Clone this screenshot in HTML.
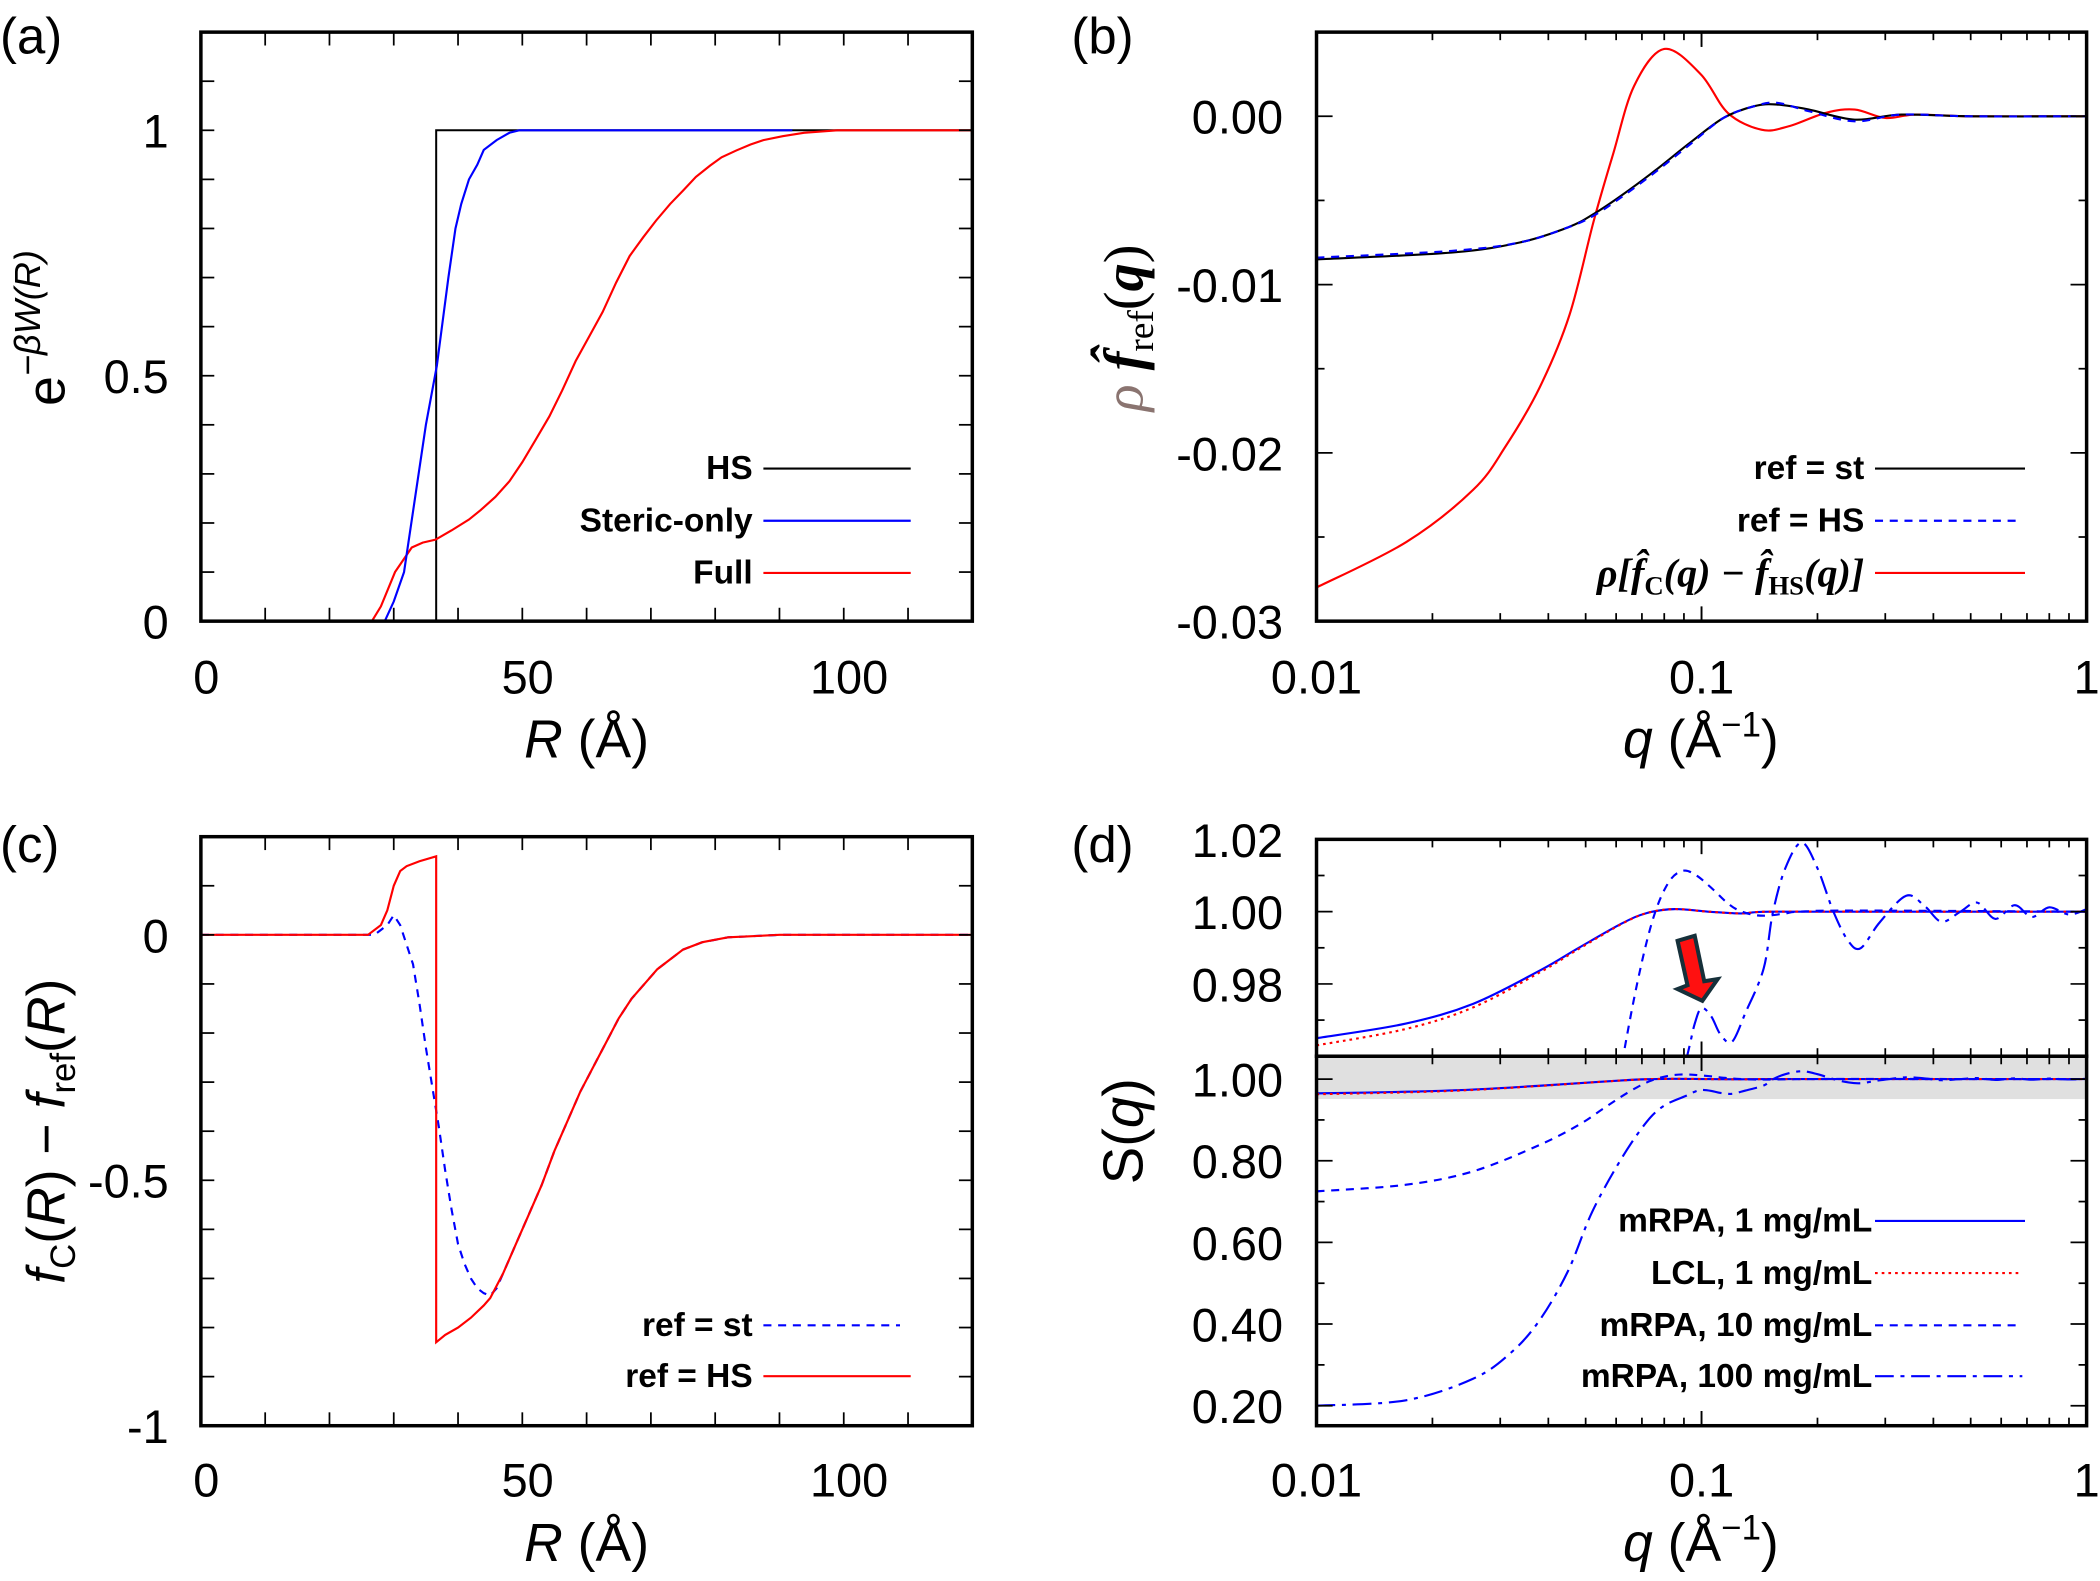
<!DOCTYPE html>
<html><head><meta charset="utf-8">
<style>
html,body{margin:0;padding:0;background:#fff;overflow:hidden;width:2100px;height:1581px;}
svg{display:block;}
text{font-family:"Liberation Sans",sans-serif;}
.tick{font-size:35px;fill:#000;}
.leg{font-family:"Liberation Sans Narrow","Liberation Sans",sans-serif;font-weight:bold;font-size:25px;}
</style></head>
<body>
<svg id="chart" xmlns="http://www.w3.org/2000/svg" width="2100" height="1581" viewBox="0 0 1568 1181" preserveAspectRatio="none" overflow="hidden">
<defs>
<clipPath id="clipA"><rect x="150" y="24" width="576" height="440"/></clipPath>
<clipPath id="clipB"><rect x="983" y="24" width="575" height="440"/></clipPath>
<clipPath id="clipC"><rect x="150" y="625" width="576" height="440"/></clipPath>
<clipPath id="clipDt"><rect x="983" y="627" width="575" height="162"/></clipPath>
<clipPath id="clipDb"><rect x="983" y="789" width="575" height="276"/></clipPath>
</defs>
<rect x="983" y="789" width="575" height="32" fill="#e0e0e0"/>
<g id="layer"></g>
<text x="0" y="40" font-size="38">(a)</text>
<text x="800" y="40" font-size="38">(b)</text>
<text x="0" y="644" font-size="38">(c)</text>
<text x="800" y="644" font-size="38">(d)</text>
<text x="438" y="566" font-size="40" text-anchor="middle"><tspan font-style="italic">R</tspan> (Å)</text>
<text x="1270" y="566" font-size="40" text-anchor="middle"><tspan font-style="italic">q</tspan> (Å<tspan font-size="26" dy="-16">−1</tspan><tspan dy="16">)</tspan></text>
<text x="438" y="1166" font-size="40" text-anchor="middle"><tspan font-style="italic">R</tspan> (Å)</text>
<text x="1270" y="1166" font-size="40" text-anchor="middle"><tspan font-style="italic">q</tspan> (Å<tspan font-size="26" dy="-16">−1</tspan><tspan dy="16">)</tspan></text>
<text transform="translate(48,245) rotate(-90)" font-size="40" text-anchor="middle">e<tspan font-size="27" dy="-18" font-style="italic">−βW(R)</tspan></text>
<text transform="translate(853,245) rotate(-90)" font-size="42" text-anchor="middle" style="font-family:'Liberation Serif',serif"><tspan fill="#8a7470" font-style="italic">ρ</tspan><tspan font-weight="bold" font-style="italic"> f̂</tspan><tspan font-size="28" dy="8">ref</tspan><tspan dy="-8">(</tspan><tspan font-style="italic" font-weight="bold">q</tspan>)</text>
<text transform="translate(48,845) rotate(-90)" font-size="40" text-anchor="middle"><tspan font-style="italic">f</tspan><tspan font-size="26" dy="8">C</tspan><tspan dy="-8">(</tspan><tspan font-style="italic">R</tspan>) − <tspan font-style="italic">f</tspan><tspan font-size="26" dy="8">ref</tspan><tspan dy="-8">(</tspan><tspan font-style="italic">R</tspan>)</text>
<text transform="translate(853,845) rotate(-90)" font-size="42" text-anchor="middle">S(<tspan font-style="italic">q</tspan>)</text>
<g class="leg">
<text x="562" y="358" text-anchor="end">HS</text>
<line x1="570" y1="350" x2="680" y2="350" stroke="#000" stroke-width="1.6"/>
<text x="562" y="397" text-anchor="end">Steric-only</text>
<line x1="570" y1="389" x2="680" y2="389" stroke="#0000ff" stroke-width="1.6"/>
<text x="562" y="436" text-anchor="end">Full</text>
<line x1="570" y1="428" x2="680" y2="428" stroke="#ff0000" stroke-width="1.6"/>
</g>
<g class="leg">
<text x="1392" y="358" text-anchor="end">ref = st</text>
<line x1="1400" y1="350" x2="1512" y2="350" stroke="#000" stroke-width="1.6"/>
<text x="1392" y="397" text-anchor="end">ref = HS</text>
<line x1="1400" y1="389" x2="1505" y2="389" stroke="#0000ff" stroke-width="1.6" stroke-dasharray="6,5"/>
<text x="1392" y="438" text-anchor="end" style="font-family:'Liberation Serif',serif;font-style:italic;font-size:30px">ρ[f̂<tspan font-size="20" dy="6" font-style="normal">C</tspan><tspan dy="-6">(q) − f̂</tspan><tspan font-size="20" dy="6" font-style="normal">HS</tspan><tspan dy="-6">(q)]</tspan></text>
<line x1="1400" y1="428" x2="1512" y2="428" stroke="#ff0000" stroke-width="1.6"/>
</g>
<g class="leg">
<text x="562" y="998" text-anchor="end">ref = st</text>
<line x1="570" y1="990" x2="672" y2="990" stroke="#0000ff" stroke-width="1.6" stroke-dasharray="6,5"/>
<text x="562" y="1036" text-anchor="end">ref = HS</text>
<line x1="570" y1="1028" x2="680" y2="1028" stroke="#ff0000" stroke-width="1.6"/>
</g>
<g class="leg">
<text x="1398" y="920" text-anchor="end">mRPA, 1 mg/mL</text>
<line x1="1400" y1="912" x2="1512" y2="912" stroke="#0000ff" stroke-width="1.6"/>
<text x="1398" y="959" text-anchor="end">LCL, 1 mg/mL</text>
<line x1="1400" y1="951" x2="1508" y2="951" stroke="#ff0000" stroke-width="1.6" stroke-dasharray="2,3"/>
<text x="1398" y="998" text-anchor="end">mRPA, 10 mg/mL</text>
<line x1="1400" y1="990" x2="1505" y2="990" stroke="#0000ff" stroke-width="1.6" stroke-dasharray="6,5"/>
<text x="1398" y="1036" text-anchor="end">mRPA, 100 mg/mL</text>
<line x1="1400" y1="1028" x2="1510" y2="1028" stroke="#0000ff" stroke-width="1.6" stroke-dasharray="14,5,3,5"/>
</g>
<polygon points="1252.6,702.8 1265.4,699 1272.5,733 1282.5,731.4 1271.1,747.6 1252.6,738.8 1260,736" fill="#ff1010" stroke="#16303a" stroke-width="3" stroke-linejoin="miter"/>
</svg>
<script>
// ---------- data ----------
const aR_hs = [0,36.6,36.6,120];
const aV_hs = [0,0,1,1];
const aR_st = [0,28.6,30,31.6,33.3,35,36.7,37.5,38.5,39.6,40.5,41.7,43,44,46,48,49.5,60,70,80,92];
const aV_st = [0,0,0.04,0.1,0.25,0.4,0.52,0.6,0.7,0.8,0.85,0.9,0.93,0.96,0.98,0.995,1,1,1,1,1];
const aR_full = [0,26.6,28,30.2,32.8,34.5,36.5,39,41.7,43.5,45.8,48,50,52,54.2,56.2,58.3,60.4,62.5,64.6,66.7,68.8,70.8,73,75,77,79.2,81,83.3,85.5,87.5,90.5,93.8,99,120];
const aV_full = [0,0,0.03,0.1,0.15,0.16,0.166,0.185,0.207,0.226,0.253,0.285,0.324,0.368,0.417,0.47,0.53,0.58,0.63,0.69,0.744,0.782,0.816,0.85,0.877,0.905,0.928,0.945,0.959,0.971,0.98,0.988,0.995,1,1];

const bQ_st = [0.01,0.0224,0.0337,0.045,0.0525,0.062,0.076,0.093,0.114,0.137,0.157,0.19,0.25,0.33,0.5,1];
const bV_st = [-0.0085,-0.0081,-0.0075,-0.0066,-0.0058,-0.0047,-0.0032,-0.0016,-0.0001,0.0006,0.0007,0.0004,-0.0002,0.0001,0,0];
const bV_hs = [-0.0084,-0.008,-0.0075,-0.0066,-0.0059,-0.0048,-0.0033,-0.0017,-0.0001,0.0006,0.0008,0.0003,-0.0003,0.0001,0,0];
const bQ_diff = [0.01,0.0171,0.0255,0.031,0.038,0.0454,0.0525,0.059,0.0668,0.08,0.0995,0.117,0.143,0.168,0.21,0.25,0.3,0.36,0.5,1];
const bV_diff = [-0.028,-0.0253,-0.0222,-0.0196,-0.0161,-0.0118,-0.0062,-0.0022,0.0018,0.004,0.0025,0.0002,-0.0008,-0.0006,0.0002,0.0004,-0.0001,0.0001,0,0];

const cR_hs = [0,26,28,29,30,31,32,34,36.6,36.6,38,40,42,44,45,47,49,51,53,55,57,59,61,63,65,67,69,71,73,75,78,82,90,120];
const cV_hs = [0,0,0.02,0.05,0.1,0.13,0.14,0.15,0.16,-0.83,-0.815,-0.8,-0.78,-0.755,-0.74,-0.69,-0.63,-0.57,-0.51,-0.44,-0.38,-0.32,-0.27,-0.22,-0.17,-0.13,-0.1,-0.07,-0.05,-0.03,-0.015,-0.005,0,0];
const cR_st = [0,27,29,30,31,32,33,34,35,36,37,38,39,40,41,42,43,44,45,46,47,49,51,53,55,57,59,61,63,65,67,69,71,73,75,78,82,90,120];
const cV_st = [0,0,0.02,0.04,0.02,-0.02,-0.06,-0.14,-0.23,-0.31,-0.39,-0.48,-0.56,-0.63,-0.67,-0.7,-0.72,-0.73,-0.735,-0.72,-0.69,-0.63,-0.57,-0.51,-0.44,-0.38,-0.32,-0.27,-0.22,-0.17,-0.13,-0.1,-0.07,-0.05,-0.03,-0.015,-0.005,0,0];

const dQ_1 = [0.01,0.017,0.0255,0.038,0.048,0.062,0.072,0.085,0.104,0.127,0.15,0.3,1];
const dS_mrpa1 = [0.965,0.969,0.9745,0.9837,0.99,0.9967,0.9996,1.0007,1.0,0.9995,1.0,1.0,1.0];
const dS_lcl1 = [0.963,0.9675,0.9735,0.9832,0.9897,0.9966,0.9996,1.0007,1.0,0.9995,1.0,1.0,1.0];
const dQ_10 = [0.01,0.017,0.0255,0.038,0.048,0.055,0.0614,0.068,0.0748,0.082,0.0894,0.097,0.107,0.115,0.123,0.135,0.148,0.165,0.18,0.25,1];
const dS_mrpa10 = [0.725,0.741,0.774,0.839,0.888,0.925,0.955,0.98,0.998,1.008,1.0113,1.01,1.0062,1.003,1.0007,0.9992,0.9989,0.9995,1.0,1.0003,1.0];
const dQ_100 = [0.01,0.017,0.0255,0.032,0.038,0.045,0.052,0.062,0.072,0.08,0.0917,0.096,0.1,0.106,0.112,0.12,0.13,0.145,0.153,0.165,0.182,0.2,0.22,0.24,0.259,0.29,0.34,0.38,0.42,0.47,0.52,0.58,0.65,0.72,0.8,0.9,1.0];
const dS_mrpa100 = [0.2,0.213,0.266,0.33,0.41,0.53,0.675,0.806,0.895,0.935,0.96,0.969,0.9733,0.971,0.966,0.964,0.972,0.9843,0.9995,1.012,1.0191,1.012,1.0,0.992,0.9899,0.997,1.0044,1.0015,0.9972,1.0,1.0025,0.998,1.0018,0.9985,1.0012,0.9992,1.0007];

const tickA_x = ['0','50','100'];
const tickA_y = ['0','0.5','1'];
const tickB_x = ['0.01','0.1','1'];
const tickB_y = ['0.00','-0.01','-0.02','-0.03'];
const tickC_y = ['0','-0.5','-1'];
const tickDt_y = ['1.02','1.00','0.98'];
const tickDb_y = ['1.00','0.80','0.60','0.40','0.20'];

// ---------- scales ----------
const xA = v => 150 + v/120*576;
const yA = v => 464 - v/1.2*440;
const xL = q => 983 + (Math.log10(q)+2)/2*575;
const yB = v => 464 - (v+0.03)/0.035*440;
const yC = v => 1065 - (v+1)/1.2*440;
const yDt = v => 789 - (v-0.96)/0.06*162;
const yDb = v => 1065 - (v-0.151)/(1.056-0.151)*276;

const NS = 'http://www.w3.org/2000/svg';
const layer = document.getElementById('layer');
function mk(tag, attrs){ const e=document.createElementNS(NS,tag); for(const k in attrs) e.setAttribute(k,attrs[k]); layer.appendChild(e); return e; }

function linePath(xs, ys, fx, fy){
  return xs.map((x,i)=>(i?'L':'M')+fx(x).toFixed(2)+','+fy(ys[i]).toFixed(2)).join(' ');
}
function smoothPath(xs, ys, fx, fy){
  const p = xs.map((x,i)=>[fx(x),fy(ys[i])]);
  let d='M'+p[0][0].toFixed(2)+','+p[0][1].toFixed(2);
  for(let i=0;i<p.length-1;i++){
    const p0=p[Math.max(0,i-1)],p1=p[i],p2=p[i+1],p3=p[Math.min(p.length-1,i+2)];
    const c1=[p1[0]+(p2[0]-p0[0])/6,p1[1]+(p2[1]-p0[1])/6];
    const c2=[p2[0]-(p3[0]-p1[0])/6,p2[1]-(p3[1]-p1[1])/6];
    d+=' C'+c1[0].toFixed(2)+','+c1[1].toFixed(2)+' '+c2[0].toFixed(2)+','+c2[1].toFixed(2)+' '+p2[0].toFixed(2)+','+p2[1].toFixed(2);
  }
  return d;
}

// ---------- series ----------
let s;
s = mk('path',{d:linePath(aR_hs,aV_hs,xA,yA),fill:'none',stroke:'#000','stroke-width':1.5,'clip-path':'url(#clipA)'});


s = mk('path',{d:linePath(aR_full,aV_full,xA,yA),fill:'none',stroke:'#ff0000','stroke-width':1.6,'clip-path':'url(#clipA)'});


s = mk('path',{d:linePath(aR_st,aV_st,xA,yA),fill:'none',stroke:'#0000ff','stroke-width':1.6,'clip-path':'url(#clipA)'});



s = mk('path',{d:smoothPath(bQ_diff,bV_diff,xL,yB),fill:'none',stroke:'#ff0000','stroke-width':1.6,'clip-path':'url(#clipB)'});


s = mk('path',{d:smoothPath(bQ_st,bV_st,xL,yB),fill:'none',stroke:'#000','stroke-width':1.6,'clip-path':'url(#clipB)'});


s = mk('path',{d:smoothPath(bQ_st,bV_hs,xL,yB),fill:'none',stroke:'#0000ff','stroke-width':1.6,'stroke-dasharray':'6,5','clip-path':'url(#clipB)'});



s = mk('path',{d:linePath(cR_st,cV_st,xA,yC),fill:'none',stroke:'#0000ff','stroke-width':1.6,'stroke-dasharray':'6,5','clip-path':'url(#clipC)'});


s = mk('path',{d:linePath(cR_hs,cV_hs,xA,yC),fill:'none',stroke:'#ff0000','stroke-width':1.6,'clip-path':'url(#clipC)'});



const dSeries = [
  [dQ_1,dS_mrpa1,'#0000ff','none','series-mrpa-1'],
  [dQ_1,dS_lcl1,'#ff0000','2,3','series-lcl-1'],
  [dQ_10,dS_mrpa10,'#0000ff','6,5','series-mrpa-10'],
  [dQ_100,dS_mrpa100,'#0000ff','14,5,3,5','series-mrpa-100']
];
for(const [q,v,col,dash,name] of dSeries){
  const t = mk('path',{d:smoothPath(q,v,xL,yDt),fill:'none',stroke:col,'stroke-width':1.6,'stroke-dasharray':dash,'clip-path':'url(#clipDt)'});
  
  
  const b = mk('path',{d:smoothPath(q,v,xL,yDb),fill:'none',stroke:col,'stroke-width':1.6,'stroke-dasharray':dash,'clip-path':'url(#clipDb)'});
  
  
}

// ---------- axes ----------
function frame(x,y,w,h,name){
  const r = mk('rect',{x:x,y:y,width:w,height:h,fill:'none',stroke:'#000','stroke-width':2.6});
  
  
}
function tickX(px,y0,y1,len){
  const t1 = mk('line',{x1:px,y1:y1,x2:px,y2:y1-len,stroke:'#000','stroke-width':1.3});
  
  
  const t2 = mk('line',{x1:px,y1:y0,x2:px,y2:y0+len,stroke:'#000','stroke-width':1.3});
  
  
}
function tickY(py,x0,x1,len){
  const t1 = mk('line',{x1:x0,y1:py,x2:x0+len,y2:py,stroke:'#000','stroke-width':1.3});
  
  
  const t2 = mk('line',{x1:x1,y1:py,x2:x1-len,y2:py,stroke:'#000','stroke-width':1.3});
  
  
}
function label(x,y,txt,anchor){
  const t = mk('text',{x:x,y:y,'text-anchor':anchor,'class':'tick'});
  t.textContent = txt;
  
  
}
function logTicksX(y0,y1){
  for(let e=-2;e<0;e++){
    for(let m=1;m<=10;m++){
      const q=m*Math.pow(10,e);
      tickX(xL(q),y0,y1,(m===1||m===10)?11:6);
    }
  }
}
frame(150,24,576,440,'plot-frame-a');
for(let v=10;v<120;v+=10) tickX(xA(v),24,464,10);
for(let v=0.1;v<1.19;v+=0.1) tickY(yA(v),150,726,10);
tickA_x.forEach(t=>label(xA(+t)+4,518,t,'middle'));
tickA_y.forEach(t=>label(126,yA(+t)+13,t,'end'));
frame(983,24,575,440,'plot-frame-b');
logTicksX(24,464);
for(let v=-0.025;v<0.005;v+=0.005) tickY(yB(v),983,1558,Math.abs(Math.round(v*1000)%10)===0?12:6);
tickB_x.forEach(t=>label(xL(+t),518,t,'middle'));
tickB_y.forEach(t=>label(958,yB(+t)+13,t,'end'));
frame(150,625,576,440,'plot-frame-c');
for(let v=10;v<120;v+=10) tickX(xA(v),625,1065,10);
for(let v=-0.9;v<0.19;v+=0.1) tickY(yC(v),150,726,10);
tickA_x.forEach(t=>label(xA(+t)+4,1118,t,'middle'));
tickC_y.forEach(t=>label(126,yC(+t)+13,t,'end'));
frame(983,627,575,162,'plot-frame-d-zoom');
frame(983,789,575,276,'plot-frame-d');
logTicksX(627,789);
logTicksX(789,1065);
for(let v=0.97;v<1.02;v+=0.01) tickY(yDt(v),983,1558,Math.round(v*100)%2===0?12:6);
for(let v=0.2;v<1.05;v+=0.1) tickY(yDb(v),983,1558,Math.round(v*10)%2===0?12:6);
tickDt_y.forEach(t=>label(958,yDt(+t)+13,t,'end'));
tickDb_y.forEach(t=>label(958,yDb(+t)+13,t,'end'));
tickB_x.forEach(t=>label(xL(+t),1118,t,'middle'));
</script>
</body></html>
